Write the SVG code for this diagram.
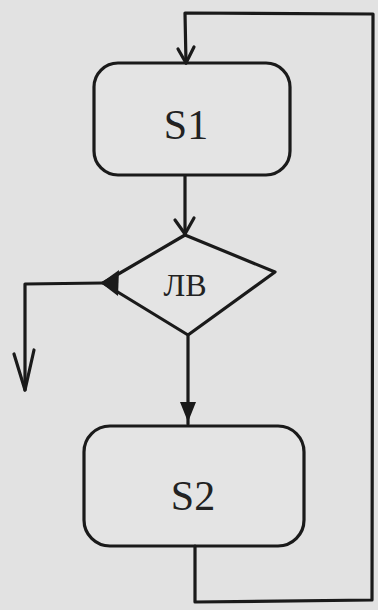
<svg xmlns="http://www.w3.org/2000/svg" width="378" height="610" viewBox="0 0 378 610">
  <style>
    .ln { fill: none; stroke: #1a1a1a; stroke-width: 3.2; stroke-linecap: round; stroke-linejoin: round; }
    .nd { fill: #e4e4e4; stroke: #1a1a1a; stroke-width: 3.2; stroke-linejoin: round; }
    .lb { font-family: "Liberation Serif", "DejaVu Serif", serif; font-size: 42px; fill: #222; text-anchor: middle; }
    .lbs { font-family: "Liberation Serif", "DejaVu Serif", serif; font-size: 32px; fill: #222; text-anchor: middle; }
  </style>
  <rect width="378" height="610" fill="#e2e2e2"/>

  <g id="s1">
    <rect class="nd" x="94" y="63" width="196" height="112" rx="24"/>
    <text class="lb" x="186" y="139">S1</text>
  </g>

  <g id="decision">
    <path class="nd" d="M185 235 L275 272 L188 335 L103 283 Z"/>
    <text class="lbs" x="185" y="296">ЛВ</text>
  </g>

  <g id="s2">
    <rect class="nd" x="84" y="426" width="220" height="120" rx="26"/>
    <text class="lb" x="193" y="510">S2</text>
  </g>

  <g id="connectors">
    <!-- loop back from S2 to the top of S1 -->
    <path class="ln" d="M195 546 L195 602 L372 600 L373 14 L185 13 L186 63"/>
    <path class="ln" d="M178 49 L186 63 L194 47"/>
    <!-- S1 to decision -->
    <path class="ln" d="M185 176 L185 234"/>
    <path class="ln" d="M175 220 L185 234 L194 218"/>
    <!-- decision to S2 -->
    <path class="ln" d="M188 336 L188 424"/>
    <path d="M180 402 L188 422 L196 402 Z" fill="#1a1a1a"/>
    <!-- left exit with its junction mark -->
    <path class="ln" d="M103 283 L25 284 L25 390"/>
    <path class="ln" d="M14 354 L25 390 L34 350"/>
    <path d="M101 283 L119 270 L118 296 Z" fill="#1a1a1a"/>
  </g>
</svg>
